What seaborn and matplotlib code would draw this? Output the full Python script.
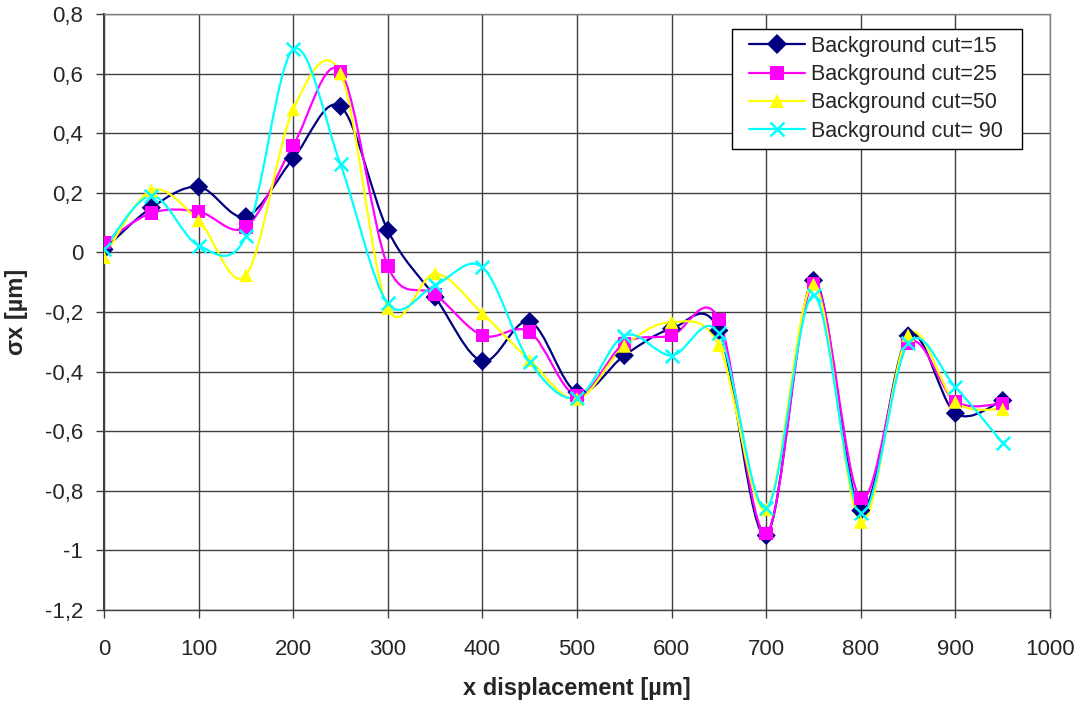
import numpy as np
import pandas as pd
import matplotlib
matplotlib.use("Agg")
import matplotlib.pyplot as plt
import seaborn as sns
from matplotlib.path import Path
from matplotlib.patches import PathPatch
from matplotlib.lines import Line2D
from matplotlib.legend_handler import HandlerLine2D
from matplotlib.ticker import FuncFormatter, MultipleLocator

# x positions (µm)
x_disp = [0, 50, 100, 150, 200, 250, 300, 350, 400, 450,
          500, 550, 600, 650, 700, 750, 800, 850, 900, 950]

# sigma x values (µm)
cut_15 = [0.01, 0.15, 0.22, 0.12, 0.315, 0.49, 0.074, -0.15, -0.365, -0.232,
          -0.469, -0.346, -0.256, -0.262, -0.95, -0.094, -0.866, -0.28, -0.54, -0.497]
cut_25 = [0.033, 0.132, 0.137, 0.085, 0.359, 0.607, -0.046, -0.141, -0.279, -0.267,
          -0.48, -0.305, -0.279, -0.225, -0.943, -0.105, -0.826, -0.306, -0.5, -0.507]
cut_50 = [-0.016, 0.208, 0.107, -0.077, 0.48, 0.60, -0.187, -0.071, -0.205, -0.362,
          -0.492, -0.314, -0.234, -0.312, -0.862, -0.107, -0.905, -0.278, -0.502, -0.527]
cut_90 = [0.01, 0.19, 0.023, 0.054, 0.681, 0.295, -0.171, -0.11, -0.05, -0.368,
          -0.487, -0.279, -0.346, -0.272, -0.859, -0.144, -0.876, -0.304, -0.452, -0.64]

series_names = ["Background cut=15", "Background cut=25",
                "Background cut=50", "Background cut= 90"]
series_vals = [cut_15, cut_25, cut_50, cut_90]
colors = ["#000080", "#FF00FF", "#FFFF00", "#00FFFF"]
markers = ["D", "s", "^", "x"]

frames = []
for name, vals in zip(series_names, series_vals):
    frames.append(pd.DataFrame({"x": x_disp, "sigma": vals, "series": name}))
df = pd.concat(frames, ignore_index=True)

sns.set_style("white")
plt.rcParams["font.family"] = ["Liberation Sans", "DejaVu Sans"]

fig = plt.figure(figsize=(10.77, 7.02), dpi=100)
ax = fig.add_axes([104 / 1077, 1 - 610 / 702, 946 / 1077, 596 / 702])


# Excel-like smoothed line: cubic bezier through the points
def smooth_path(xs, ys):
    p = np.column_stack([xs, ys]).astype(float)
    n = len(p)
    verts = [p[0]]
    codes = [Path.MOVETO]
    for i in range(n - 1):
        p0 = p[i - 1] if i > 0 else p[i]
        p3 = p[i + 2] if i + 2 < n else p[i + 1]
        c1 = p[i] + (p[i + 1] - p0) / 6
        c2 = p[i + 1] - (p3 - p[i]) / 6
        verts += [c1, c2, p[i + 1]]
        codes += [Path.CURVE4] * 3
    return Path(verts, codes)


for name, col in zip(series_names, colors):
    sub = df[df["series"] == name]
    ax.add_patch(PathPatch(smooth_path(sub["x"], sub["sigma"]), fill=False,
                           edgecolor=col, lw=1.6, zorder=2))

# filled markers
filled = df[df["series"] != series_names[3]]
sns.scatterplot(data=filled, x="x", y="sigma", hue="series", style="series",
                palette=dict(zip(series_names[:3], colors[:3])),
                markers=dict(zip(series_names[:3], markers[:3])),
                s=95, linewidth=0, legend=False, zorder=3, ax=ax)
# cross markers
crosses = df[df["series"] == series_names[3]]
sns.scatterplot(data=crosses, x="x", y="sigma", marker="x", s=95,
                color=colors[3], linewidth=1.8, legend=False, zorder=4, ax=ax)

ax.set_xlim(0, 1000)
ax.set_ylim(-1.2, 0.8)
ax.xaxis.set_major_locator(MultipleLocator(100))
ax.yaxis.set_major_locator(MultipleLocator(0.2))
ax.yaxis.set_major_formatter(FuncFormatter(lambda v, _: f"{round(v, 1):g}".replace(".", ",")))
ax.grid(True, color="#404040", lw=1.0)
ax.set_axisbelow(True)
ax.tick_params(axis="both", which="major", direction="out", length=6, width=1,
               color="#404040", labelsize=16, bottom=True, left=True)
ax.tick_params(axis="x", pad=15)
ax.tick_params(axis="y", pad=9)
for side in ["top", "right"]:
    ax.spines[side].set_color("#808080")
    ax.spines[side].set_linewidth(1.0)
ax.spines["left"].set_color("#404040")
ax.spines["left"].set_linewidth(1.5)
ax.spines["bottom"].set_color("#404040")
ax.spines["bottom"].set_linewidth(1.0)

ax.set_xlabel("x displacement [µm]", fontsize=17, fontweight="bold", labelpad=12)
ax.set_ylabel("σx [µm]", fontsize=17, fontweight="bold", labelpad=12)


# legend line with some empty room on its left, like the Excel legend
class LeadHandler(HandlerLine2D):
    def __init__(self, lead=0.5, **kw):
        super().__init__(**kw)
        self.lead = lead

    def get_xdata(self, legend, xdescent, ydescent, width, height, fontsize):
        x0 = -xdescent + self.lead * fontsize
        x1 = width - xdescent
        return np.array([x0, x1]), np.array([(x0 + x1) / 2])


handles = []
for name, col, mk in zip(series_names, colors, markers):
    if mk == "x":
        handles.append(Line2D([], [], color=col, lw=1.6, marker=mk, markersize=10,
                              markeredgewidth=1.8, label=name + "  "))
    else:
        handles.append(Line2D([], [], color=col, lw=1.6, marker=mk, markersize=10,
                              markeredgewidth=0, label=name + "  "))
leg = ax.legend(handles=handles, handler_map={Line2D: LeadHandler()},
                loc="upper right", bbox_to_anchor=(0.9704, 0.975),
                borderaxespad=0, fontsize=15.5, frameon=True, fancybox=False,
                edgecolor="black", handlelength=3.1, labelspacing=0.34,
                borderpad=0.32, handletextpad=0.28)
leg.get_frame().set_linewidth(1.0)
leg.get_frame().set_alpha(1)

fig.savefig("out.png", dpi=100)
